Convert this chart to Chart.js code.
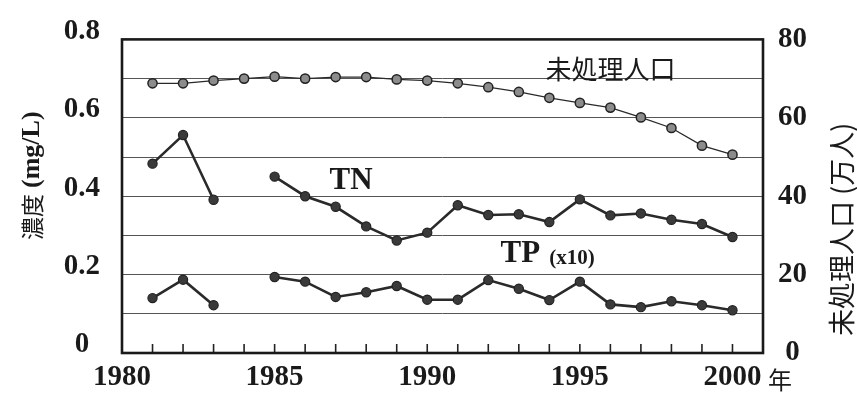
<!DOCTYPE html>
<html>
<head>
<meta charset="utf-8">
<script src="https://cdn.jsdelivr.net/npm/chart.js@4.4.0/dist/chart.umd.min.js"></script>
<style>
  html, body { margin: 0; padding: 0; background: #ffffff; }
  #wrap { width: 857px; height: 400px; }
</style>
</head>
<body>
<div id="wrap"><canvas id="c" width="857" height="400"></canvas></div>
<script>
// ---- data ----
const years = [1981,1982,1983,1984,1985,1986,1987,1988,1989,1990,1991,1992,1993,1994,1995,1996,1997,1998,1999,2000];
const population = [68.8,68.8,69.5,70.0,70.5,70.0,70.4,70.4,69.8,69.5,68.8,67.8,66.6,65.1,63.8,62.6,60.1,57.4,52.9,50.6];
const tn = [0.483,0.556,0.391,null,0.450,0.400,0.373,0.323,0.287,0.307,0.377,0.352,0.354,0.334,0.392,0.351,0.356,0.340,0.329,0.296];
const tp10 = [0.140,0.187,0.122,null,0.194,0.182,0.143,0.155,0.171,0.136,0.136,0.186,0.164,0.135,0.182,0.124,0.117,0.132,0.122,0.109];
const xTickLabels = [1980,1985,1990,1995,2000];
const leftTickLabels = [0,0.2,0.4,0.6,0.8];
const rightTickLabels = [0,20,40,60,80];

const SERIF = '"Liberation Serif", "DejaVu Serif", serif';
const CJK = '"Noto Sans CJK JP", "Noto Sans", sans-serif';

const toXY = arr => years.map((yr, i) => ({ x: yr, y: arr[i] }));

const decor = {
  id: 'decor',
  afterDatasetsDraw(chart) {
    const { ctx, chartArea: a, scales } = chart;
    const x = scales.x, y = scales.y, y2 = scales.y2;
    ctx.save();
    // inward x ticks
    ctx.strokeStyle = '#222';
    ctx.lineWidth = 1.6;
    years.forEach(yr => {
      const px = x.getPixelForValue(yr);
      ctx.beginPath();
      ctx.moveTo(px, a.bottom);
      ctx.lineTo(px, a.bottom - 9);
      ctx.stroke();
    });
    // frame
    ctx.lineWidth = 2.6;
    ctx.strokeStyle = '#1a1a1a';
    ctx.strokeRect(a.left, a.top, a.right - a.left, a.bottom - a.top);

    ctx.fillStyle = '#1a1a1a';
    ctx.textBaseline = 'middle';
    // annotations
    ctx.font = '26px ' + CJK;
    ctx.textAlign = 'center';
    ctx.fillText('未処理人口', x.getPixelForValue(1996.0), y2.getPixelForValue(72.5));
    ctx.textAlign = 'left';
    ctx.font = 'bold 31px ' + SERIF;
    ctx.fillText('TN', x.getPixelForValue(1986.8), y.getPixelForValue(0.439));
    ctx.fillText('TP', x.getPixelForValue(1992.4), y.getPixelForValue(0.252));
    ctx.font = 'bold 21px ' + SERIF;
    ctx.fillText('(x10)', x.getPixelForValue(1994.0), y.getPixelForValue(0.240));
    // 年
    ctx.font = '24px ' + CJK;
    ctx.textAlign = 'center';
    ctx.fillText('年', a.right + 17, a.bottom + 27);

    // left axis title (rotated, reading bottom to top)
    ctx.save();
    ctx.translate(32, 240);
    ctx.rotate(-Math.PI / 2);
    ctx.textAlign = 'left';
    ctx.font = '23px ' + CJK;
    ctx.fillText('濃度', 0, 0);
    let w = ctx.measureText('濃度').width + 6;
    ctx.font = 'bold 26px ' + SERIF;
    ctx.fillText('(mg/L)', w, 0);
    ctx.restore();

    // right axis title
    ctx.save();
    ctx.translate(842, 336);
    ctx.rotate(-Math.PI / 2);
    ctx.textAlign = 'left';
    ctx.font = '27px ' + CJK;
    ctx.fillText('未処理人口 (万人)', 0, 0);
    ctx.restore();

    ctx.restore();
  }
};

new Chart(document.getElementById('c'), {
  type: 'line',
  data: {
    datasets: [
      {
        label: '未処理人口',
        data: toXY(population),
        yAxisID: 'y2',
        borderColor: '#2a2a2a',
        borderWidth: 1.3,
        pointRadius: 4.6,
        pointBackgroundColor: '#8c8c8c',
        pointBorderColor: '#222',
        pointBorderWidth: 1.5,
        tension: 0
      },
      {
        label: 'TN',
        data: toXY(tn),
        yAxisID: 'y',
        borderColor: '#2a2a2a',
        borderWidth: 2.6,
        pointRadius: 4.6,
        pointBackgroundColor: '#3a3a3a',
        pointBorderColor: '#222',
        pointBorderWidth: 1.2,
        spanGaps: false,
        tension: 0
      },
      {
        label: 'TP (x10)',
        data: toXY(tp10),
        yAxisID: 'y',
        borderColor: '#2a2a2a',
        borderWidth: 2.6,
        pointRadius: 4.6,
        pointBackgroundColor: '#3a3a3a',
        pointBorderColor: '#222',
        pointBorderWidth: 1.2,
        spanGaps: false,
        tension: 0
      }
    ]
  },
  options: {
    responsive: false,
    animation: false,
    events: [],
    layout: { padding: { top: 32, left: 0, right: 0, bottom: 0 } },
    plugins: { legend: { display: false }, tooltip: { enabled: false } },
    scales: {
      x: {
        type: 'linear',
        min: 1980,
        max: 2001,
        afterBuildTicks: s => { s.ticks = xTickLabels.map(v => ({ value: v })); },
        afterFit: s => { s.height = 47; },
        grid: { display: false, drawTicks: false },
        border: { display: false },
        ticks: {
          padding: 7,
          color: '#1a1a1a',
          font: { family: SERIF, size: 29, weight: 'bold' },
          maxRotation: 0,
          autoSkip: false,
          callback: v => String(v)
        }
      },
      y: {
        position: 'left',
        min: 0,
        max: 0.8,
        afterBuildTicks: s => {
          const t = [];
          for (let i = 0; i <= 8; i++) t.push({ value: i / 10 });
          s.ticks = t;
        },
        afterFit: s => { s.width = 122; },
        grid: { color: '#555', lineWidth: 1, drawTicks: false },
        border: { display: false },
        ticks: {
          padding: 22,
          crossAlign: 'center',
          labelOffset: -8,
          color: '#1a1a1a',
          font: { family: SERIF, size: 29, weight: 'bold' },
          autoSkip: false,
          callback: v => {
            const r = Math.round(v * 10) / 10;
            const hit = leftTickLabels.find(t => Math.abs(t - r) < 1e-9);
            return hit === undefined ? '' : (hit === 0 ? '0' : hit.toFixed(1));
          }
        }
      },
      y2: {
        position: 'right',
        min: 0,
        max: 80,
        afterBuildTicks: s => { s.ticks = rightTickLabels.map(v => ({ value: v })); },
        afterFit: s => { s.width = 94; },
        grid: { display: false, drawOnChartArea: false, drawTicks: false },
        border: { display: false },
        ticks: {
          padding: 15,
          crossAlign: 'center',
          color: '#1a1a1a',
          font: { family: SERIF, size: 29, weight: 'bold' },
          autoSkip: false,
          callback: v => String(v)
        }
      }
    }
  },
  plugins: [decor]
});
</script>
</body>
</html>
